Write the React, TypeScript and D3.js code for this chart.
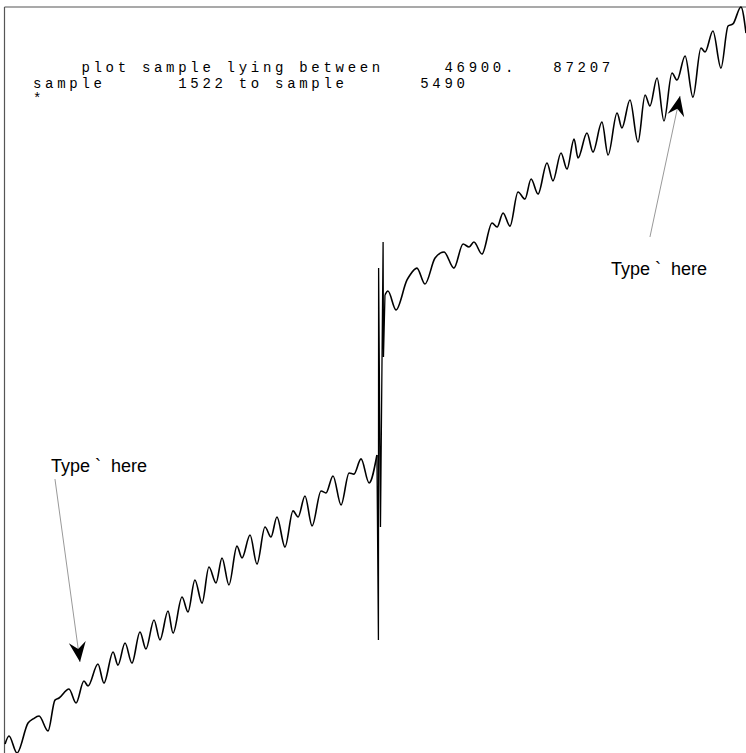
import React from 'react';
import * as d3 from 'd3';

const W = 746;
const H = 753;

// plotted window
const FIRST_SAMPLE = 1522;
const LAST_SAMPLE = 5490;
const LOW_VALUE = 46900;
const HIGH_VALUE = 87207;

// rising trace before the jump
const lowerSamples = [
  1525, 1546, 1589, 1648, 1675, 1707, 1755, 1792, 1814, 1867, 1905, 1947, 1969, 2022,
  2054, 2103, 2129, 2167, 2204, 2247, 2279, 2322, 2354, 2397, 2424, 2472, 2504, 2541,
  2579, 2616, 2654, 2686, 2723, 2766, 2793, 2836, 2873, 2916, 2948, 2980, 3023, 3066,
  3093, 3130, 3168, 3216, 3242, 3280, 3323, 3366, 3392, 3430, 3473, 3515,
];
const lowerValues = [
  47390, 47820, 46900, 48520, 48740, 48900, 48090, 49760, 49870, 50360, 49600, 50790, 50520, 51710,
  50680, 52360, 51650, 52840, 51760, 53440, 52520, 54090, 53010, 54570, 53380, 55330, 54520, 56250,
  55000, 56950, 56090, 57440, 55980, 58080, 57440, 58680, 57110, 59110, 58570, 59650, 58030, 59980,
  59650, 60790, 59170, 61060, 60950, 61870, 60300, 62030, 61970, 62790, 61490, 63000,
];

// glitch samples at the jump
const jumpSamples = [3515, 3523, 3524, 3534, 3548, 3550, 3558];
const jumpValues = [63000, 53010, 73100, 59110, 74510, 68300, 71650];

// rising trace after the jump
const upperSamples = [
  3558, 3574, 3617, 3676, 3692, 3729, 3772, 3826, 3874, 3927, 3976, 4008, 4034, 4077,
  4131, 4158, 4190, 4227, 4270, 4307, 4340, 4377, 4425, 4457, 4500, 4532, 4570, 4591,
  4639, 4671, 4719, 4752, 4800, 4826, 4869, 4912, 4950, 4976, 5014, 5051, 5094, 5121,
  5164, 5206, 5249, 5271, 5313, 5356, 5394, 5420, 5463, 5490,
];
const upperValues = [
  71650, 71860, 70840, 72460, 72730, 73100, 72240, 73640, 73970, 73100, 74400, 74240, 74510, 73860,
  75540, 75320, 76080, 75370, 77210, 76830, 77910, 77100, 78780, 77810, 79320, 78450, 80070, 79050,
  80400, 79370, 80990, 79210, 81480, 80670, 82180, 79910, 82450, 81860, 83370, 81050, 83640, 83260,
  84560, 82340, 84990, 84780, 85910, 83910, 86180, 86290, 87207, 85800,
];

// callouts
const noteTexts = ['Type `  here', 'Type `  here'];
const noteTextSamples = [1771, 4768];
const noteTextValues = [62080, 72720];
const noteTailSamples = [1792, 4976];
const noteTailValues = [61700, 74780];
const noteTipSamples = [1926, 5137];
const noteTipValues = [51820, 82400];

// header printout
const headerLines = [
  '    plot sample lying between' + `${LOW_VALUE}.`.padStart(11) + `${HIGH_VALUE}`.padStart(8),
  'sample' + `${FIRST_SAMPLE}`.padStart(10) + ' to sample' + `${LAST_SAMPLE}`.padStart(10),
  '*',
];

const x = d3.scaleLinear().domain([FIRST_SAMPLE, LAST_SAMPLE]).range([4.5, W]);
const y = d3.scaleLinear().domain([LOW_VALUE, HIGH_VALUE]).range([H, 7]);

type Pt = [number, number];
const pts = (s: number[], v: number[]): Pt[] => s.map((d, i) => [d, v[i]]);

const smooth = d3
  .line<Pt>()
  .x((d) => x(d[0]))
  .y((d) => y(d[1]))
  .curve(d3.curveMonotoneX);

const straight = d3
  .line<Pt>()
  .x((d) => x(d[0]))
  .y((d) => y(d[1]));

function arrowHead(x1: number, y1: number, x2: number, y2: number): string {
  const a = Math.atan2(y2 - y1, x2 - x1);
  const c = Math.cos(a);
  const s = Math.sin(a);
  const local: Pt[] = [
    [0, 0],
    [-20, -8.5],
    [-13, 0],
    [-20, 8.5],
  ];
  return local.map(([u, v]) => `${x2 + u * c - v * s},${y2 + u * s + v * c}`).join(' ');
}

export default function App() {
  return (
    <svg
      width={W}
      height={H}
      viewBox={`0 0 ${W} ${H}`}
      style={{ position: 'absolute', left: 0, top: 0, background: '#fff' }}
    >
      <rect x={0} y={0} width={W} height={H} fill="#fff" />
      {/* frame */}
      <line x1={4.5} y1={7} x2={W} y2={7} stroke="#555" strokeWidth={1.2} />
      <line x1={4.5} y1={7} x2={4.5} y2={H} stroke="#555" strokeWidth={1.2} />

      {/* header block */}
      <text
        x={33}
        y={72}
        xmlSpace="preserve"
        style={{ whiteSpace: 'pre' }}
        fontFamily="'Liberation Mono', 'DejaVu Sans Mono', monospace"
        fontSize={14}
        letterSpacing={3.7}
        fill="#000"
      >
        {headerLines.map((t, i) => (
          <tspan key={i} x={33} dy={i === 0 ? 0 : 15.5}>
            {t}
          </tspan>
        ))}
      </text>

      {/* trace */}
      <path d={smooth(pts(lowerSamples, lowerValues)) || ''} fill="none" stroke="#000" strokeWidth={1.6} />
      <path d={straight(pts(jumpSamples, jumpValues)) || ''} fill="none" stroke="#000" strokeWidth={1.3} />
      <path d={smooth(pts(upperSamples, upperValues)) || ''} fill="none" stroke="#000" strokeWidth={1.6} />

      {/* callouts */}
      {noteTexts.map((t, i) => {
        const tx = x(noteTailSamples[i]);
        const ty = y(noteTailValues[i]);
        const hx = x(noteTipSamples[i]);
        const hy = y(noteTipValues[i]);
        return (
          <g key={i}>
            <text
              x={x(noteTextSamples[i])}
              y={y(noteTextValues[i])}
              xmlSpace="preserve"
              style={{ whiteSpace: 'pre' }}
              fontFamily="'Liberation Sans', Arial, sans-serif"
              fontSize={18}
              fill="#000"
            >
              {t}
            </text>
            <line x1={tx} y1={ty} x2={hx} y2={hy} stroke="#999" strokeWidth={1} />
            <polygon points={arrowHead(tx, ty, hx, hy)} fill="#000" />
          </g>
        );
      })}
    </svg>
  );
}
